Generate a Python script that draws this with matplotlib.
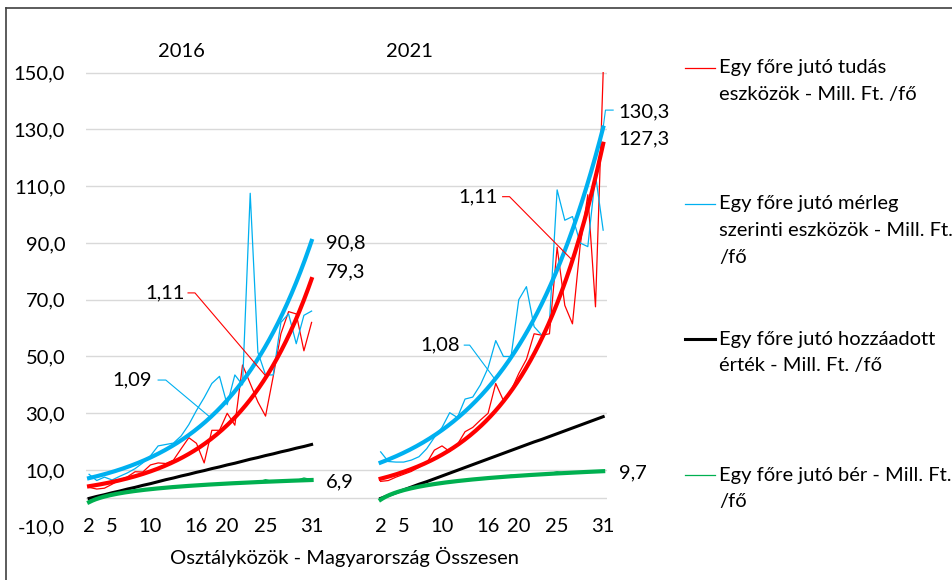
import numpy as np
import matplotlib.pyplot as plt
from matplotlib.lines import Line2D

plt.rcParams['font.family'] = ['Lato', 'DejaVu Sans']

# Osztályközök (x categories) for both years
classes = list(range(2, 32))
tick_classes = [2, 5, 10, 16, 20, 25, 31]
years = ['2016', '2021']

# 2016
tudas_2016 = [3.9, 3.3, 3.6, 5.0, 6.5, 7.6, 9.4, 9.3, 11.8, 12.5, 12.3, 13.5, 17.5, 21.4, 19.4,
              12.5, 24.0, 24.0, 30.0, 25.8, 47.0, 40.5, 34.0, 29.0, 43.0, 58.0, 65.8, 65.0, 52.0, 62.0]
merleg_2016 = [8.5, 6.3, 7.5, 6.5, 7.8, 9.0, 10.5, 12.5, 15.0, 18.5, 19.0, 19.5, 22.0, 26.0, 31.0,
               35.5, 40.5, 43.0, 33.0, 43.5, 40.0, 107.5, 51.5, 43.5, 43.5, 62.0, 65.0, 54.5, 64.5, 66.0]
hozzaadott_2016 = [0.0, 0.7, 1.3, 2.0, 2.6, 3.3, 3.9, 4.6, 5.2, 5.9, 6.6, 7.2, 7.9, 8.5, 9.2,
                   9.8, 10.5, 11.1, 11.8, 12.4, 13.1, 13.8, 14.4, 15.1, 15.7, 16.4, 17.0, 17.7, 18.3, 19.0]
ber_2016 = [-0.8, 0.0, 0.7, 1.2, 1.7, 2.1, 2.5, 2.8, 3.1, 3.4, 3.6, 3.9, 4.1, 4.3, 4.5,
            4.6, 4.8, 5.0, 5.1, 5.3, 5.4, 5.6, 5.7, 6.6, 5.9, 6.1, 6.2, 6.3, 7.2, 6.6]

# 2021
tudas_2021 = [6.0, 6.3, 7.5, 8.5, 9.5, 11.0, 12.5, 17.0, 18.5, 16.5, 19.0, 23.5, 25.0, 27.6, 30.0,
              40.5, 34.5, 38.0, 44.0, 49.0, 58.0, 57.5, 58.0, 88.5, 68.0, 61.5, 89.0, 107.0, 67.5, 150.0]
merleg_2021 = [16.4, 13.0, 12.8, 12.8, 13.5, 14.7, 17.5, 21.5, 25.0, 30.2, 28.5, 35.0, 35.7, 40.0, 46.0,
               55.6, 50.0, 50.0, 70.0, 74.6, 60.5, 57.5, 62.0, 108.7, 98.0, 99.3, 90.0, 88.7, 114.0, 94.5]
hozzaadott_2021 = [0.0, 1.0, 2.0, 3.0, 4.0, 5.0, 5.9, 6.9, 7.9, 8.9, 9.9, 10.9, 11.9, 12.9, 13.9,
                   14.9, 15.9, 16.9, 17.9, 18.9, 19.9, 20.8, 21.8, 22.8, 23.8, 24.8, 25.8, 26.8, 27.8, 28.8]
ber_2021 = [-0.6, 1.0, 2.2, 3.0, 3.7, 4.3, 4.7, 5.0, 5.3, 5.7, 6.0, 6.3, 6.6, 6.9, 7.1,
            7.3, 7.5, 8.2, 8.0, 8.2, 8.4, 8.5, 8.7, 9.4, 8.9, 9.0, 9.1, 9.2, 9.3, 9.5]

# labels shown on the chart
growth_labels = {'2016': ('1,11', '1,09'), '2021': ('1,11', '1,08')}
end_labels = {'2016': ('79,3', '90,8', '6,9'), '2021': ('127,3', '130,3', '9,7')}

legend_texts = [
    ['Egy főre jutó tudás', 'eszközök - Mill. Ft. /fő'],
    ['Egy főre jutó mérleg', 'szerinti eszközök - Mill. Ft.', '/fő'],
    ['Egy főre jutó hozzáadott', 'érték - Mill. Ft. /fő'],
    ['Egy főre jutó bér - Mill. Ft.', '/fő'],
]

RED = '#FF0000'
BLUE = '#00B0F0'
GREEN = '#00B050'
GRID = '#D9D9D9'
FS = 14.5
OFFSET = 38  # shift of the 2021 group on the category axis

W, H = 952, 580
fig = plt.figure(figsize=(W / 100, H / 100), dpi=100)
ax = fig.add_axes([86 / W, 1 - 526.8 / H, 521 / W, (526.8 - 69.8) / H])
ax.set_xlim(1.6, 69.5)
ax.set_ylim(-10, 151)
for s in ax.spines.values():
    s.set_visible(False)

for v in range(10, 151, 20):
    ax.axhline(v, color=GRID, lw=1, zorder=0)
ax.axhline(0, color=GRID, lw=1, zorder=0)

yt = list(range(-10, 151, 20))
ax.set_yticks(yt)
ax.set_yticklabels([f'{v:.1f}'.replace('.', ',') for v in yt], fontsize=FS)
ax.tick_params(axis='y', length=0, pad=15)

xt = tick_classes + [c + OFFSET for c in tick_classes]
ax.set_xticks(xt)
ax.set_xticklabels([str(c) for c in tick_classes] * 2, fontsize=FS)
ax.tick_params(axis='x', length=0, pad=0)
for lbl in ax.get_xticklabels():
    lbl.set_verticalalignment('center')


def exp_fit(x, y):
    b, a = np.polyfit(x, np.log(y), 1)
    return lambda t: np.exp(a + b * np.asarray(t)), np.exp(b)


def log_fit(x, y):
    b, a = np.polyfit(np.log(x), y, 1)
    return lambda t: a + b * np.log(np.asarray(t))


xs = np.array(classes, dtype=float)
fine = np.linspace(2, 31, 200)

panels = [
    ('2016', 0, tudas_2016, merleg_2016, hozzaadott_2016, ber_2016),
    ('2021', OFFSET, tudas_2021, merleg_2021, hozzaadott_2021, ber_2021),
]

trends = {}
for year, off, tud, mer, hoz, ber in panels:
    ax.plot(xs + off, tud, color=RED, lw=0.9, zorder=2)
    ax.plot(xs + off, mer, color=BLUE, lw=0.9, zorder=2)
    ax.plot(xs + off, ber, color=GREEN, lw=0.9, zorder=2)
    ax.plot(xs + off, hoz, color='black', lw=2.2, zorder=3)
    f_red, g_red = exp_fit(xs, tud)
    f_blue, g_blue = exp_fit(xs, mer)
    f_green = log_fit(xs, ber)
    ax.plot(fine + off, f_red(fine), color=RED, lw=3.0, zorder=4)
    ax.plot(fine + off, f_blue(fine), color=BLUE, lw=3.0, zorder=4)
    ax.plot(fine + off, f_green(fine), color=GREEN, lw=3.0, zorder=4)
    trends[year] = (f_red, f_blue, f_green)

# growth-rate annotations with leader lines
f_red, f_blue, _ = trends['2016']
ax.text(14.5, 72.4, growth_labels['2016'][0], fontsize=FS, ha='right', va='center')
ax.plot([14.9, 15.8, 25.1], [72.4, 72.4, float(f_red(25.1))], color=RED, lw=0.8, zorder=5)
ax.text(10.2, 41.7, growth_labels['2016'][1], fontsize=FS, ha='right', va='center')
ax.plot([11.0, 12.0, 17.8], [41.7, 41.7, float(f_blue(17.8))], color=BLUE, lw=0.8, zorder=5)

f_red, f_blue, _ = trends['2021']
ax.text(17.2 + OFFSET, 106.3, growth_labels['2021'][0], fontsize=FS, ha='right', va='center')
ax.plot([17.9 + OFFSET, 18.8 + OFFSET, 27.0 + OFFSET], [106.3, 106.3, float(f_red(27.0))],
        color=RED, lw=0.8, zorder=5)
ax.text(12.3 + OFFSET, 54.0, growth_labels['2021'][1], fontsize=FS, ha='right', va='center')
ax.plot([12.9 + OFFSET, 13.6 + OFFSET, 16.9 + OFFSET], [54.0, 54.0, float(f_blue(16.9))],
        color=BLUE, lw=0.8, zorder=5)

# end-of-trend labels
ax.text(32.9, 79.7, end_labels['2016'][0], fontsize=FS, va='center', clip_on=False)
ax.text(32.9, 90.1, end_labels['2016'][1], fontsize=FS, va='center', clip_on=False)
ax.text(32.9, 6.0, end_labels['2016'][2], fontsize=FS, va='center', clip_on=False)
ax.text(33.0 + OFFSET, 126.6, end_labels['2021'][0], fontsize=FS, va='center', clip_on=False)
ax.text(33.0 + OFFSET, 136.2, end_labels['2021'][1], fontsize=FS, va='center', clip_on=False)
ax.text(33.0 + OFFSET, 9.0, end_labels['2021'][2], fontsize=FS, va='center', clip_on=False)
ax.plot([32.3 + OFFSET, 31.3 + OFFSET, 31.0 + OFFSET],
        [136.8, 136.8, float(trends['2021'][1](31))], color=BLUE, lw=0.8, zorder=5, clip_on=False)

# year labels and axis title
ax.text(14.1, 157.5, years[0], fontsize=FS, ha='center', va='center', clip_on=False)
ax.text(5.8 + OFFSET, 157.5, years[1], fontsize=FS, ha='center', va='center', clip_on=False)
fig.text(345 / W, 1 - 557 / H, 'Osztályközök - Magyarország Összesen', fontsize=FS,
         ha='center', va='center')

# legend drawn by hand
leg_styles = [(RED, 0.9), (BLUE, 0.9), ('black', 2.2), (GREEN, 0.9)]
leg_tops = [68, 204, 339, 475]
for (col, lw), top, lines in zip(leg_styles, leg_tops, legend_texts):
    fig.add_artist(Line2D([685 / W, 715 / W], [1 - top / H] * 2, color=col, lw=lw))
    for i, line in enumerate(lines):
        fig.text(719 / W, 1 - (top + 27 * i) / H, line, fontsize=FS, va='center')

# chart frame (cropped at the right and bottom)
fig.add_artist(Line2D([6 / W, 1], [1 - 8 / H] * 2, color='#404040', lw=1.2))
fig.add_artist(Line2D([6 / W] * 2, [0, 1 - 8 / H], color='#404040', lw=1.2))

fig.savefig('out.png', dpi=100)
